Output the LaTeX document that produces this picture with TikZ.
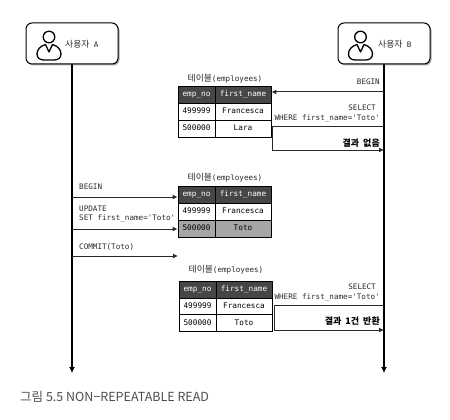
\documentclass[tikz,border=0pt]{standalone}
\usepackage{fontspec}
\setmainfont{Noto Sans CJK KR}
\setmonofont{DejaVu Sans Mono}
\newfontfamily\krfont{Noto Sans CJK KR}
\usetikzlibrary{arrows.meta,shadows}
\definecolor{headgray}{HTML}{464646}
\definecolor{rowgray}{HTML}{A6A6A6}
\definecolor{linegray}{HTML}{2A2A2A}
\newcommand{\monotext}[1]{{\ttfamily\fontsize{7.6}{9}\selectfont #1}}
\tikzset{
	userbox/.style={draw=black,line width=1pt,fill=white,rounded corners=6pt,minimum width=92pt,minimum height=41pt,drop shadow={shadow xshift=1.5pt,shadow yshift=-1.5pt,opacity=0.7}},
	usertext/.style={font=\krfont\fontsize{8.8}{10}\selectfont,text=linegray,anchor=west,inner sep=0pt},
	headcell/.style={draw=black,line width=0.8pt,fill=headgray,text=white,inner sep=0pt,font=\ttfamily\fontsize{7.7}{9}\selectfont,text height=6pt,text depth=1.5pt,minimum height=17pt},
	bodycell/.style={draw=black,line width=0.8pt,fill=white,text=black,inner sep=0pt,font=\ttfamily\fontsize{7.7}{9}\selectfont,text height=6pt,text depth=1.5pt,minimum height=17pt},
	greycell/.style={bodycell,fill=rowgray},
	nocol/.style={minimum width=37pt},
	namecol/.style={minimum width=56pt},
	tabletitle/.style={font=\krfont\fontsize{8.8}{10}\selectfont,text=linegray,inner sep=0pt},
	msg/.style={font=\ttfamily\fontsize{7.6}{9}\selectfont,text=linegray,inner sep=0pt},
	result/.style={font=\krfont\bfseries\fontsize{9}{10}\selectfont,text=black,inner sep=0pt,anchor=east},
	lifeline/.style={line width=1.6pt,-{Latex[length=6pt,width=6pt]}},
	call/.style={line width=1pt,draw=linegray,-{Latex[length=5pt,width=5pt]}}
}
\begin{document}
\begin{tikzpicture}[x=1pt,y=-1pt]
	\useasboundingbox (0,0) rectangle (450,420);

	% users
	\node[userbox] (UserA) at (72,43.5) {};
	\node[userbox] (UserB) at (384,43.5) {};
	\foreach \n/\x in {A/49,B/360.5}{
		\draw[line width=1.3pt,shift={(\x,0)}] (0,37) circle (5.8);
		\draw[line width=1.3pt,shift={(\x,0)},line join=round] (-3.5,44.5) .. controls (-9,46) and (-12,50) .. (-12,54) .. controls (-12,58) and (-9,60) .. (-5,60) -- (5,60) .. controls (9,60) and (12,58) .. (12,54) .. controls (12,50) and (9,46) .. (3.5,44.5) -- (0,52) -- cycle;
	}
	\node[usertext] (NameA) at (65,44) {사용자\hspace{4.5pt}\monotext{A}};
	\node[usertext] (NameB) at (378,44) {사용자\hspace{4.5pt}\monotext{B}};

	% life lines
	\coordinate (EndA) at (72,373);
	\coordinate (EndB) at (384,373);
	\draw[lifeline] (UserA) -- (EndA);
	\draw[lifeline] (UserB) -- (EndB);

	% first table
	\node[tabletitle] (TitleOne) at (225,79) {테이블\monotext{(employees)}};
	\node[headcell,nocol] (NoOne) at (196.5,94.5) {emp\_no};
	\node[headcell,namecol] (NameOne) at (243,94.5) {first\_name};
	\node[bodycell,nocol] (NoOneA) at (196.5,111.5) {499999};
	\node[bodycell,namecol] (NameOneA) at (243,111.5) {Francesca};
	\node[bodycell,nocol] (NoOneB) at (196.5,128.5) {500000};
	\node[bodycell,namecol] (NameOneB) at (243,128.5) {Lara};

	% second table
	\node[tabletitle] (TitleTwo) at (225,178) {테이블\monotext{(employees)}};
	\node[headcell,nocol] (NoTwo) at (196.5,194.5) {emp\_no};
	\node[headcell,namecol] (NameTwo) at (243,194.5) {first\_name};
	\node[bodycell,nocol] (NoTwoA) at (196.5,211.5) {499999};
	\node[bodycell,namecol] (NameTwoA) at (243,211.5) {Francesca};
	\node[greycell,nocol] (NoTwoB) at (196.5,228.5) {500000};
	\node[greycell,namecol] (NameTwoB) at (243,228.5) {Toto};

	% third table
	\node[tabletitle] (TitleThree) at (226,270) {테이블\monotext{(employees)}};
	\node[headcell,nocol] (NoThree) at (197.5,289.5) {emp\_no};
	\node[headcell,namecol] (NameThree) at (244,289.5) {first\_name};
	\node[bodycell,nocol] (NoThreeA) at (197.5,306.5) {499999};
	\node[bodycell,namecol] (NameThreeA) at (244,306.5) {Francesca};
	\node[bodycell,nocol] (NoThreeB) at (197.5,323) {500000};
	\node[bodycell,namecol] (NameThreeB) at (244,323) {Toto};

	% user A messages
	\coordinate (BeginA) at (72,197);
	\coordinate (UpdateA) at (72,229);
	\coordinate (CommitA) at (72,256);
	\coordinate (CommitEnd) at (178,256);
	\draw[call] (BeginA) -- (NoTwo.west |- BeginA);
	\draw[call] (UpdateA) -- (NoTwoB.west |- UpdateA);
	\draw[call] (CommitA) -- (CommitEnd);
	\node[msg,anchor=west] (MsgBegin) at (79,187) {BEGIN};
	\node[msg,anchor=west] (MsgUpdate) at (79,209) {UPDATE};
	\node[msg,anchor=west] (MsgSet) at (79,219) {SET first\_name='Toto'};
	\node[msg,anchor=west] (MsgCommit) at (79,247) {COMMIT(Toto)};

	% user B messages
	\coordinate (BeginB) at (384,92);
	\coordinate (SelectB) at (384,126);
	\coordinate (TurnOne) at (272,126);
	\coordinate (TurnTwo) at (272,150);
	\coordinate (BackB) at (384,150);
	\coordinate (SelectC) at (384,305);
	\coordinate (TurnThree) at (274,305);
	\coordinate (TurnFour) at (274,330);
	\coordinate (BackC) at (384,330);
	\draw[call] (BeginB) -- (NameOne.east |- BeginB);
	\draw[call] (SelectB) -- (TurnOne) -- (TurnTwo) -- (BackB);
	\draw[call] (SelectC) -- (TurnThree) -- (TurnFour) -- (BackC);
	\node[msg,anchor=east] (MsgBeginB) at (380,82) {BEGIN};
	\node[msg,anchor=east] (MsgSelectB) at (376,108) {SELECT};
	\node[msg,anchor=east] (MsgWhereB) at (380,119) {WHERE first\_name='Toto'};
	\node[result] (ResultOne) at (380,143) {결과\hspace{4pt}없음};
	\node[msg,anchor=east] (MsgSelectC) at (376,287) {SELECT};
	\node[msg,anchor=east] (MsgWhereC) at (380,298) {WHERE first\_name='Toto'};
	\node[result] (ResultTwo) at (380,321) {결과\hspace{4pt}1건\hspace{4pt}반환};

	% caption
	\node[font=\krfont\fontsize{12.5}{14}\selectfont,text=black!70,inner sep=0pt,anchor=west] (Caption) at (20,397) {그림 5.5 NON−REPEATABLE READ};
\end{tikzpicture}
\end{document}
